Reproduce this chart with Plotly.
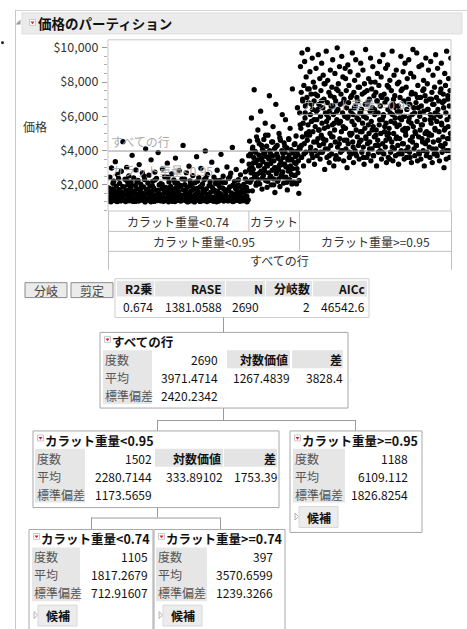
import plotly.graph_objects as go

# ---------------- data ----------------
leaf_names = ["カラット重量<0.74", "カラット重量>=0.74", "カラット重量>=0.95"]
leaf_counts = [1105, 397, 1188]

price_lt074 = [
    1250, 1820, 1100, 2450, 1530, 1010, 2980, 1390, 1760, 1150, 2210, 1080, 1640, 3350, 1290, 1920, 1040, 2600, 1470, 1180,
    1710, 2080, 1330, 1060, 2790, 1550, 1220, 4520, 1870, 1120, 1440, 2330, 1020, 1690, 3010, 1360, 1990, 1140, 2520, 1600,
    1070, 1810, 2150, 1260, 3720, 1480, 1030, 2400, 1580, 1200, 1950, 2870, 1110, 1420, 1750, 2260, 1050, 3180, 1310, 1660,
    2040, 1170, 1520, 2690, 1090, 1880, 1380, 2310, 1000, 4100, 1730, 1240, 1570, 2110, 1130, 2560, 1460, 1940, 1060, 3460,
    1280, 1620, 2200, 1150, 1800, 1030, 2740, 1410, 1190, 2380, 1670, 1080, 3880, 1510, 1990, 1230, 1350, 2060, 1100, 1780,
    2930, 1300, 1040, 1560, 2470, 1210, 1850, 1120, 1680, 3260, 1430, 1010, 2170, 1590, 1260, 1910, 1070, 2640, 1370, 1740,
    1160, 2280, 1500, 1020, 3560, 1830, 1270, 1440, 2090, 1090, 1620, 2830, 1200, 1960, 1050, 1400, 2350, 1140, 4300, 1700,
    1330, 2010, 1080, 1540, 2710, 1250, 1860, 1030, 1470, 3090, 1180, 2230, 1610, 1060, 1930, 1340, 2540, 1120, 1720, 1000,
    2120, 1450, 1230, 3640, 1790, 1100, 1580, 2420, 1290, 1040, 1890, 2960, 1380, 1150, 2050, 1650, 1070, 2300, 1520, 3980,
    1210, 1760, 1020, 2600, 1430, 1310, 1950, 1090, 2180, 1560, 1170, 3320, 1840, 1260, 1040, 2450, 1690, 1130, 2070, 1390,
    1010, 2850, 1600, 1220, 1980, 1080, 2250, 1490, 3780, 1350, 1140, 1820, 2500, 1050, 1730, 1270, 2140, 1420, 1190, 3040,
    1660, 1060, 2370, 1300, 1870, 1110, 2680, 1530, 1240, 4180, 1980, 1030, 1450, 2200, 1160, 1770, 2900, 1350, 1090, 1620,
    2300, 1200, 1900, 1040, 2580, 1480, 1280, 3400, 1710, 1070, 2030, 1560, 1150, 2760, 1320, 1850, 1010, 2190, 1640, 3700,
]
price_lt074_b = [
    1050, 1720, 1310, 2090, 1180, 1490, 1020, 2380, 1610, 1270, 1890, 1110, 1560, 2240, 1070, 1370, 1980, 1230, 1650, 1030,
    2160, 1420, 1150, 1830, 1290, 2510, 1090, 1540, 1750, 1200, 1010, 1940, 1340, 2290, 1130, 1680, 1460, 1060, 2020, 1250,
    1580, 1120, 2430, 1390, 1800, 1040, 1520, 2120, 1280, 1700, 1080, 1910, 1350, 1170, 2330, 1620, 1000, 1470, 2060, 1240,
    1790, 1100, 1400, 2210, 1320, 1030, 1860, 1550, 1190, 2400, 1440, 1070, 1960, 1260, 1630, 1140, 2270, 1500, 1050, 1840,
    1360, 2150, 1210, 1590, 1090, 1740, 2480, 1300, 1020, 1920, 1450, 1160, 2000, 1570, 1230, 1080, 1780, 2350, 1330, 1120,
]
price_ge074 = [
    3200, 4550, 2150, 3800, 2700, 5900, 3050, 1650, 4200, 2900, 3600, 7550, 2450, 3950, 3300, 1980, 4800, 2600, 3450, 5200,
    2300, 3750, 4400, 2050, 3150, 6300, 2800, 3550, 1750, 4050, 3350, 2550, 4650, 2950, 3900, 5600, 2250, 3650, 4250, 1850,
    3100, 4900, 2700, 3500, 7200, 2400, 3850, 3250, 2000, 4500, 2850, 3700, 5400, 2350, 3400, 4100, 1550, 3000, 6700, 2650,
    3800, 4300, 2200, 3550, 2900, 5000, 3150, 1900, 4600, 3350, 2500, 4000, 6100, 2750, 3600, 2100, 4450, 3200, 3900, 5800,
    2450, 3050, 4150, 1700, 3450, 2800, 4700, 3750, 2300, 5300, 3100, 4050, 2600, 3500, 7600, 2950, 3850, 2150, 4350, 3300,
    2550, 3650, 4850, 2050, 3950, 6500, 2700, 3400, 1500, 4200,
]
price_ge074_b = [
    2900, 3700, 2300, 4100, 3300, 2600, 3900, 2100, 4600, 3100, 2700, 3500, 4300, 2400, 3800, 2800, 4900, 3200, 2200, 3600,
    4000, 2500, 3400, 4500, 2000, 3000, 4200, 2750, 3650, 2350, 4750, 3150, 2650, 3850, 2450, 4250, 3050, 2150, 3550, 4650,
    2850, 3450, 2050, 3950, 2550, 4400, 3250, 2950, 3750, 2250,
]
price_ge095 = [
    6200, 4100, 8900, 5300, 7400, 3600, 9700, 4800, 6900, 5600, 3100, 7800, 4400, 9200, 5900, 6600, 3900, 8300, 5000, 7100,
    4600, 9900, 5500, 6800, 3400, 7600, 4900, 8600, 6100, 4200, 7300, 5700, 3800, 9400, 6400, 5100, 8000, 4500, 6900, 3200,
    7700, 5400, 4000, 8800, 6300, 5800, 3700, 7200, 4700, 9600, 5200, 6700, 4300, 8200, 3500, 6000, 7500, 4900, 9100, 5600,
    3900, 6500, 8400, 4400, 7000, 5300, 2900, 7900, 6200, 4600, 9800, 5700, 3600, 6800, 8100, 4100, 5900, 7400, 3300, 6300,
    5000, 8700, 4300, 6600, 3800, 7700, 5500, 9300, 4800, 6100, 3100, 7100, 5200, 8500, 4500, 6900, 3700, 7600, 5800, 10000,
    4200, 6400, 7900, 3500, 5600, 8900, 4700, 6700, 3900, 7300, 5100, 9500, 4000, 6200, 8300, 5400, 3400, 7000, 4600, 6000,
    8800, 5300, 4100, 7500, 6500, 3000, 5900, 9000, 4400, 6800, 7800, 3600, 5000, 8600, 4900, 6300, 3800, 7200, 5700, 9700,
    4500, 6100, 3300, 7400, 5500, 8100, 4000, 6600, 9300, 5200, 3700, 7100, 4800, 6900, 8400, 4300, 5800, 3500, 7700, 6200,
    5100, 9100, 4600, 6400, 3900, 7300, 5600, 8700, 4200, 6000, 3200, 7900, 5300, 6700, 9900, 4700, 5900, 3600, 7500, 4400,
    6800, 3800, 8200, 5000, 7000, 4500, 6300, 9400, 3400, 5700, 7600, 4100, 6500, 8900, 5400, 3700, 7200, 4800, 6100, 8000,
    4300, 7400, 5200, 3100, 6900, 8500, 4600, 6200, 3900, 7800, 5500, 9200, 4000, 6600, 5000, 8300, 3500, 7100, 5800, 4400,
    9600, 6000, 3800, 7300, 5100, 6800, 4200, 8800, 5600, 3300, 7000, 4900, 9000, 6400, 3600, 7700, 5300, 4700, 8100, 6200,
    3900, 5700, 7500, 4500, 9800, 6100, 3400, 6700, 5000, 8400, 4100, 7200, 5900, 3700, 6500, 8700, 4800, 5400, 7900, 4300,
    6600, 3200, 8000, 5500, 4700, 7100, 6300, 9500, 4000, 5800, 3800, 7600, 5200, 8600, 4400, 6900, 3500, 6000, 9100, 5100,
    4900, 7700, 3600, 6400, 8200, 5300, 4200, 7000, 9300, 5900, 3900, 6700, 4600, 8500, 5600, 3300, 7400, 6100, 4500, 9900,
    5400, 8300, 4100, 6200, 3700, 7300, 5000, 6800, 4300, 9700, 5700, 3400, 7800, 6500, 4800, 8900, 3800, 6000, 5200, 7100,
    3500, 6600, 9000, 4700, 5500, 7500, 4000, 8100, 6300, 3100, 5800, 7200, 4400, 9400, 6900, 5100, 3900, 7900, 4600, 6400,
    8700, 5000, 4200, 7000, 3600, 6100, 9200, 5600, 4900, 7400, 3300, 6700, 8400, 4500, 5900, 3800, 7700, 5300, 6200, 9600,
    4100, 7100, 5700, 3700, 8800, 6400, 4600, 6900, 5100, 3400, 8000, 6000, 4300, 7600, 9100, 5500, 3900, 6800, 4800, 7300,
    6500, 3000, 5200, 8500, 4400, 7800, 6200, 3500, 9800, 5800, 4700, 7000, 5400, 8200, 4000, 6600, 3600, 7500, 5000, 9400,
]
price_ge095_b = [
    5500, 4300, 7000, 3800, 6200, 4900, 7600, 5100, 4000, 6700, 3600, 5800, 7300, 4500, 6400, 5200, 3900, 6900, 4700, 7900,
    4100, 6100, 5400, 3700, 7200, 4800, 6600, 5600, 3500, 6300, 7500, 4400, 5700, 4000, 6800, 5300, 8200, 4600, 6000, 3900,
    7100, 5000, 4200, 6500, 3800, 5900, 7700, 4500, 6200, 5100, 3600, 7400, 4800, 6700, 5500, 4100, 8000, 5200, 3700, 6400,
    4900, 6900, 4300, 5800, 7200, 3900, 6100, 5400, 4600, 7800, 5000, 3500, 6600, 4200, 7000, 5600, 4700, 6300, 3800, 5900,
    7500, 4400, 6000, 5300, 4000, 6800, 5700, 3600, 7300, 4800, 6500, 5100, 4300, 7100, 3900, 6200, 5500, 4500, 7600, 5000,
    3700, 6400, 4900, 5800, 7000, 4100, 6700, 5200, 3800, 6100, 4600, 7400, 5600, 4200, 6900, 5300, 4000, 7200, 4700, 6000,
]
leaf_samples = [[price_lt074, price_lt074_b], [price_ge074, price_ge074_b], [price_ge095, price_ge095_b]]

y_ticks = [2000, 4000, 6000, 8000, 10000]
y_ticktext = ["$2,000", "$4,000", "$6,000", "$8,000", "$10,000"]

# tree nodes
node_names = ["すべての行", "カラット重量<0.95", "カラット重量>=0.95", "カラット重量<0.74", "カラット重量>=0.74"]
node_counts = [2690, 1502, 1188, 1105, 397]
node_means = [3971.4714, 2280.7144, 6109.112, 1817.2679, 3570.6599]
node_sds = [2420.2342, 1173.5659, 1826.8254, 712.91607, 1239.3266]
split_logworth = [1267.4839, 333.89102]
split_diff = [3828.4, 1753.39]
row_labels = ["度数", "平均", "標準偏差"]
split_headers = ["対数価値", "差"]

stat_headers = ["R2乗", "RASE", "N", "分岐数", "AICc"]
stat_values = ["0.674", "1381.0588", "2690", "2", "46542.6"]

title_text = "価格のパーティション"
y_title = "価格"
button_texts = ["分岐", "剪定"]
cand_text = "候補"

# ---------------- layout helpers ----------------
W, H = 467, 629
FONT = "Noto Sans CJK JP"
shapes, annos = [], []


def X(p):
    return p / W


def Y(p):
    return 1 - p / H


def rect(x0, y0, x1, y1, fill=None, line=None, lw=1):
    shapes.append(dict(type="rect", xref="paper", yref="paper",
                       x0=X(x0), x1=X(x1), y0=Y(y1), y1=Y(y0),
                       fillcolor=fill or "rgba(0,0,0,0)",
                       line=dict(color=line or "rgba(0,0,0,0)", width=lw if line else 0)))


def hline(x0, x1, y, color="#a0a0a0"):
    shapes.append(dict(type="line", xref="paper", yref="paper", x0=X(x0), x1=X(x1),
                       y0=Y(y + 0.5), y1=Y(y + 0.5), line=dict(color=color, width=1)))


def vline(x, y0, y1, color="#a0a0a0"):
    shapes.append(dict(type="line", xref="paper", yref="paper", x0=X(x + 0.5), x1=X(x + 0.5),
                       y0=Y(y0), y1=Y(y1), line=dict(color=color, width=1)))


def path(pts, fill=None, line=None):
    d = "M " + " L ".join(f"{X(a)},{Y(b)}" for a, b in pts) + " Z"
    shapes.append(dict(type="path", xref="paper", yref="paper", path=d,
                       fillcolor=fill or "rgba(0,0,0,0)",
                       line=dict(color=line or "rgba(0,0,0,0)", width=1 if line else 0)))


def text(x, y, s, size=12, color="#222", anchor="left", bold=False):
    annos.append(dict(xref="paper", yref="paper", x=X(x), y=Y(y),
                      text=f"<b>{s}</b>" if bold else s, showarrow=False,
                      xanchor=anchor, yanchor="middle", borderpad=0, borderwidth=0,
                      font=dict(family=FONT, size=size, color=color)))


def red_icon(cx, cy):
    rect(cx - 3, cy - 3, cx + 3, cy + 3, fill="white", line="#c8c8c8")
    path([(cx - 2, cy - 1), (cx + 2, cy - 1), (cx, cy + 1.8)], fill="#d8202a")


def cand_button(x0, x1, y0):
    path([(x0 - 4, y0 + 6.5), (x0 - 0.5, y0 + 10), (x0 - 4, y0 + 13.5)], line="#b0b0b0")
    rect(x0, y0, x1, y0 + 21, fill="#ececec", line="#d8d8d8")
    text((x0 + x1) / 2, y0 + 10.5, cand_text, size=12, color="#111", anchor="center", bold=True)


# ---------------- report frame ----------------
hline(15, 467, 7, color="#d4d4d4")
vline(15, 7, 629, color="#c8c8c8")
shapes.append(dict(type="circle", xref="paper", yref="paper", x0=X(1), x1=X(4), y0=Y(41.5), y1=Y(38.5),
                   fillcolor="#222", line=dict(width=0)))
rect(22, 10, 462, 31, fill="#ebebeb", line="#dcdcdc")
path([(20.5, 16.5), (20.5, 21.5), (15.5, 21.5)], fill="#9a9a9a")
red_icon(32.5, 19.5)
text(38, 20, title_text, size=13.5, color="#111", bold=True)

# ---------------- partition plot ----------------
PL, PR, PT, PB = 108, 451, 37, 209
edges = [0]
for c in leaf_counts:
    edges.append(edges[-1] + c)

xs, ys = [], []
for k, sets in enumerate(leaf_samples):
    n = leaf_counts[k]
    for vals in sets:
        m = len(vals)
        for i, v in enumerate(vals):
            xs.append(edges[k] + (i + 0.5) * n / m)
            ys.append(v)

fig = go.Figure(go.Scatter(x=xs, y=ys, mode="markers", hoverinfo="skip",
                           marker=dict(color="black", size=5.3, line=dict(width=0))))

# mean lines (drawn over points)
line_col = "rgba(150,150,150,0.95)"
mean_lines = [
    (edges[0], edges[3], node_means[0]),   # all rows
    (edges[0], edges[2], node_means[1]),   # carat < 0.95
    (edges[2], edges[3], node_means[2]),   # carat >= 0.95
]
for x0, x1, m in mean_lines:
    shapes.append(dict(type="line", xref="x", yref="y", x0=x0, x1=x1, y0=m, y1=m,
                       line=dict(color=line_col, width=1)))
lab_col = "rgba(165,165,165,0.95)"
for xv, m, s in [(edges[0], node_means[0], node_names[0]),
                 (edges[0], node_means[1], node_names[1]),
                 (edges[2], node_means[2], node_names[2])]:
    annos.append(dict(xref="x", yref="y", x=xv, y=m, text=s, showarrow=False,
                      xanchor="left", yanchor="bottom", xshift=2, borderpad=0,
                      font=dict(family=FONT, size=12, color=lab_col)))

# plot frame
rect(PL, PT, PR, PB, line="#c8c8c8")
text(35, 124, y_title, size=12, color="#333", anchor="center")

# partition label table under plot
tcol = "#c0c0c0"
for yy in (229, 249):
    hline(PL, PR, yy, color=tcol)
vline(PL, PB, 268, color=tcol)
vline(PR, PB, 268, color=tcol)
for e, ybot in ((edges[1], 229), (edges[2], 249)):
    shapes.append(dict(type="line", xref="x", yref="paper", x0=e, x1=e, y0=Y(ybot), y1=Y(PB),
                       line=dict(color=tcol, width=1)))


def xtext(xv, y, s):
    annos.append(dict(xref="x", yref="paper", x=xv, y=Y(y), text=s, showarrow=False,
                      xanchor="center", yanchor="middle", borderpad=0,
                      font=dict(family=FONT, size=12, color="#333")))


xtext((edges[0] + edges[1]) / 2, 219.5, leaf_names[0])
xtext((edges[1] + edges[2]) / 2, 219.5, "カラット")
xtext((edges[0] + edges[2]) / 2, 239.5, node_names[1])
xtext((edges[2] + edges[3]) / 2, 239.5, node_names[2])
xtext((edges[0] + edges[3]) / 2, 258.5, node_names[0])

# ---------------- buttons + stats table ----------------
for (bx0, bx1), s in zip([(25, 67), (71, 113)], button_texts):
    rect(bx0, 281, bx1, 296, fill="#ebebeb", line="#8c8c8c")
    text((bx0 + bx1) / 2, 288.5, s, size=12, color="#444", anchor="center")

rect(115, 277, 369, 316, fill="white", line="#cfcfcf")
hdr_cells = [(117, 154), (155, 225), (226, 265), (266, 312), (313, 367)]
hdr_right = [152, 222, 263, 310, 365]
val_right = [153, 222, 259, 310, 365]
for (c0, c1), hr, vr, h, v in zip(hdr_cells, hdr_right, val_right, stat_headers, stat_values):
    rect(c0, 279, c1, 295, fill="#e4e4e4")
    text(hr, 287, h, size=12, color="#111", anchor="right", bold=True)
    text(vr, 305, v, size=12, color="#111", anchor="right")

# ---------------- tree ----------------
tree_lines = [
    ((223, 223), (316, 331)), ((223, 223), (407, 419)), ((157, 355), (419, 419)),
    ((157, 157), (419, 430)), ((355, 355), (419, 430)), ((157, 157), (507, 517)),
    ((91, 220), (517, 517)), ((91, 91), (517, 529)), ((220, 220), (517, 529)),
]
for (xa, xb), (ya, yb) in tree_lines:
    if xa == xb:
        vline(xa, ya, yb, color="#9a9a9a")
    else:
        hline(xa, xb, ya, color="#9a9a9a")

node_geo = [
    dict(x0=100, y0=331, x1=348, y1=407, lab=(103, 152), vr=218, hdr=[(227, 290, 288), (292, 343, 342)], cand=None),
    dict(x0=33, y0=430, x1=279, y1=507, lab=(35, 85), vr=151.5, hdr=[(155, 223, 221), (224, 277, 276)], cand=None),
    dict(x0=290, y0=430, x1=422, y1=532, lab=(293, 345), vr=408, hdr=None, cand=(299, 338)),
    dict(x0=29, y0=529, x1=153, y1=660, lab=(32, 80), vr=148, hdr=None, cand=(38, 77)),
    dict(x0=154, y0=529, x1=285, y1=660, lab=(156, 207), vr=273, hdr=None, cand=(163, 202)),
]

for i, g in enumerate(node_geo):
    y0 = g["y0"]
    rect(g["x0"], y0, g["x1"], g["y1"], fill="white", line="#a8a8a8")
    red_icon(g["x0"] + 7.5, y0 + 7)
    text(g["x0"] + 12, y0 + 9.5, node_names[i], size=12.5, color="#111", bold=True)
    rect(g["lab"][0], y0 + 18, g["lab"][1], y0 + 72, fill="#e6e6e6")
    vals = [f"{node_counts[i]}", f"{node_means[i]}", f"{node_sds[i]}"]
    for r in range(3):
        yc = y0 + 27.5 + 18 * r
        text(g["lab"][0] + 2, yc, row_labels[r], size=12, color="#555")
        text(g["vr"], yc, vals[r], size=12, color="#111", anchor="right")
    if g["hdr"]:
        sv = [f"{split_logworth[i]}", f"{split_diff[i]}"]
        for (c0, c1, cr), h, v in zip(g["hdr"], split_headers, sv):
            rect(c0, y0 + 18, c1, y0 + 36, fill="#e4e4e4")
            text(cr, y0 + 27.5, h, size=12, color="#111", anchor="right", bold=True)
            text(c1, y0 + 45.5, v, size=12, color="#111", anchor="right")
    if g["cand"]:
        cand_button(g["cand"][0], g["cand"][1], y0 + 76)

fig.update_layout(
    width=W, height=H, autosize=False,
    margin=dict(l=0, r=0, t=0, b=0),
    paper_bgcolor="white", plot_bgcolor="white",
    showlegend=False,
    xaxis=dict(domain=[X(PL), X(PR)], range=[edges[0], edges[-1]], visible=False, fixedrange=True),
    yaxis=dict(domain=[Y(PB), Y(PT)], range=[470, 10465], tickvals=y_ticks, ticktext=y_ticktext,
               ticks="outside", ticklen=5, tickcolor="#9a9a9a", showgrid=False, zeroline=False,
               showline=False, ticklabelstandoff=1,
               tickfont=dict(family=FONT, size=12.5, color="#333"),
               minor=dict(dtick=500, ticks="outside", ticklen=3, tickcolor="#b0b0b0"),
               fixedrange=True),
    shapes=shapes, annotations=annos,
)

fig.write_html("out.html")
